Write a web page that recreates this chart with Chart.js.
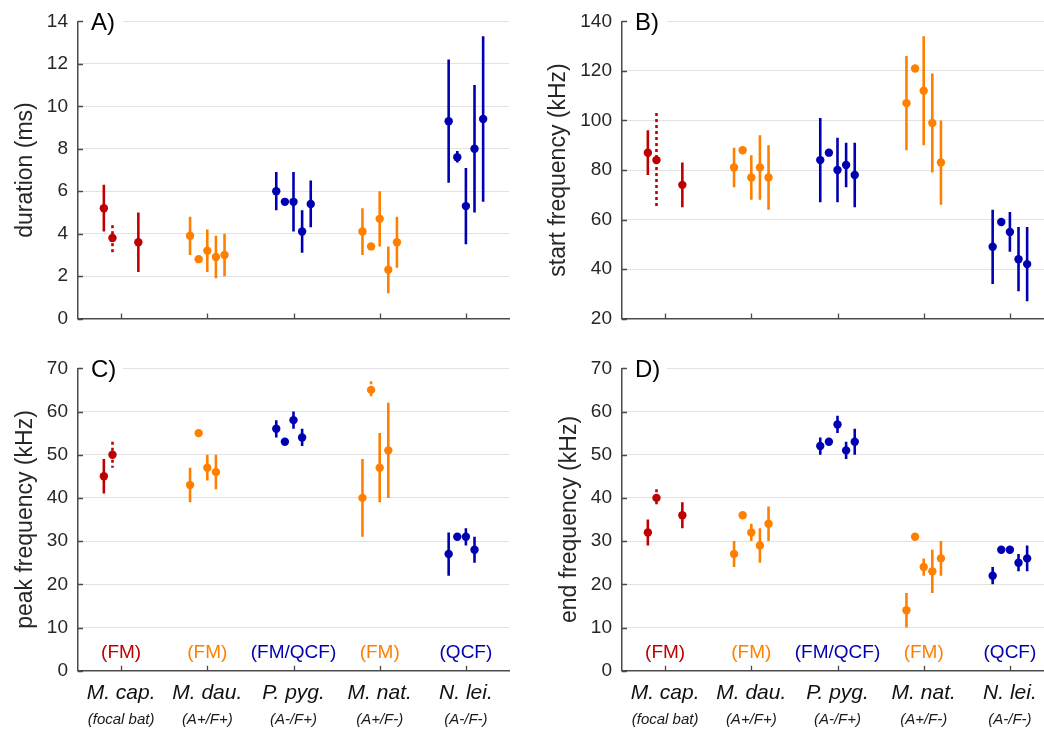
<!DOCTYPE html>
<html lang="en">
<head>
<meta charset="UTF-8">
<title>Call parameters per species</title>
<script src="https://cdn.jsdelivr.net/npm/chart.js"></script>
<style>
  html, body { margin: 0; padding: 0; background: #fff; overflow: hidden; }
  body { width: 1044px; height: 729px; position: relative; }
  canvas { position: absolute; }
</style>
</head>
<body>
<canvas id="panelA" width="520" height="340" style="left:0;top:0"></canvas>
<canvas id="panelB" width="560" height="340" style="left:520px;top:0"></canvas>
<canvas id="panelC" width="520" height="389" style="left:0;top:340px"></canvas>
<canvas id="panelD" width="560" height="389" style="left:520px;top:340px"></canvas>
<script>
// species along the x axis, five recorded bats per species (null = bat not recorded)
const species = ['M. cap.', 'M. dau.', 'P. pyg.', 'M. nat.', 'N. lei.'];
const speciesNotes = ['(focal bat)', '(A+/F+)', '(A-/F+)', '(A+/F-)', '(A-/F-)'];
const callTypes = ['(FM)', '(FM)', '(FM/QCF)', '(FM)', '(QCF)'];

// A) duration (ms)
const durMean = [
  [5.2, 3.8, null, null, 3.6],
  [3.9, 2.8, 3.2, 2.9, 3.0],
  [6.0, 5.5, 5.5, 4.1, 5.4],
  [4.1, 3.4, 4.7, 2.3, 3.6],
  [9.3, 7.6, 5.3, 8.0, 9.4]
];
const durLow = [
  [4.1, 3.1, null, null, 2.2],
  [3.0, null, 2.2, 1.9, 2.0],
  [5.1, null, 4.1, 3.1, 4.3],
  [3.0, null, 3.4, 1.2, 2.4],
  [6.4, 7.35, 3.5, 5.0, 5.5]
];
const durHigh = [
  [6.3, 4.4, null, null, 5.0],
  [4.8, null, 4.2, 3.9, 4.0],
  [6.9, null, 6.9, 5.1, 6.5],
  [5.2, null, 6.0, 3.4, 4.8],
  [12.2, 7.9, 7.1, 11.0, 13.3]
];

// B) start frequency (kHz)
const startMean = [
  [87, 84, null, null, 74],
  [81, 88, 77, 81, 77],
  [84, 87, 80, 82, 78],
  [107, 121, 112, 99, 83],
  [49, 59, 55, 44, 42]
];
const startLow = [
  [78, 65, null, null, 65],
  [73, null, 68, 68, 64],
  [67, null, 67, 73, 65],
  [88, null, 90, 79, 66],
  [34, null, 47, 31, 27]
];
const startHigh = [
  [96, 103, null, null, 83],
  [89, null, 86, 94, 90],
  [101, null, 93, 91, 91],
  [126, null, 134, 119, 100],
  [64, null, 63, 57, 57]
];

// C) peak frequency (kHz)
const peakMean = [
  [45, 50, null, null, null],
  [43, 55, 47, 46, null],
  [56, 53, 58, 54, null],
  [40, 65, 47, 51, null],
  [27, 31, 31, 28, null]
];
const peakLow = [
  [41, 47, null, null, null],
  [39, null, 44, 42, null],
  [54, null, 56, 52, null],
  [31, 63, 39, 40, null],
  [22, null, 29, 25, null]
];
const peakHigh = [
  [49, 53, null, null, null],
  [47, null, 50, 50, null],
  [58, null, 60, 56, null],
  [49, 67, 55, 62, null],
  [32, null, 33, 31, null]
];

// D) end frequency (kHz)
const endMean = [
  [32, 40, null, null, 36],
  [27, 36, 32, 29, 34],
  [52, 53, 57, 51, 53],
  [14, 31, 24, 23, 26],
  [22, 28, 28, 25, 26]
];
const endLow = [
  [29, 38, null, null, 33],
  [24, null, 30, 25, 30],
  [50, null, 55, 49, 50],
  [10, null, 22, 18, 22],
  [20, null, null, 23, 23]
];
const endHigh = [
  [35, 42, null, null, 39],
  [30, null, 34, 33, 38],
  [54, null, 59, 53, 56],
  [18, null, 26, 28, 30],
  [24, null, null, 27, 29]
];

// [species, bat] pairs whose range is drawn dotted
const durDotted = [[0, 1]];
const startDotted = [[0, 1]];
const peakDotted = [[0, 1], [3, 1]];
const endDotted = [[0, 1]];

const RED = '#bf0000', ORANGE = '#ff8000', BLUE = '#0000b3';
const speciesColors = [RED, ORANGE, BLUE, ORANGE, BLUE];
const FONT = '"Liberation Sans", Arial, Helvetica, sans-serif';
const AXIS = '#4a4a4a';
const GRID = '#e2e2e2';
const TEXT = '#262626';

// panel letter, inward tick marks and the text under / inside the bottom panels
const panelDecor = {
  id: 'panelDecor',
  afterDraw(chart, args, opts) {
    const { ctx, chartArea: a } = chart;
    const x = chart.scales.x, y = chart.scales.y;
    ctx.save();

    ctx.fillStyle = '#fff';
    ctx.fillRect(a.left + 1, a.top - 3, 44, 6);
    ctx.fillStyle = '#000';
    ctx.font = '24px ' + FONT;
    ctx.textAlign = 'left';
    ctx.textBaseline = 'middle';
    ctx.fillText(opts.letter, a.left + 13, a.top + 2);

    ctx.strokeStyle = AXIS;
    ctx.lineWidth = 1.3;
    ctx.beginPath();
    y.ticks.forEach(t => {
      const py = Math.round(y.getPixelForValue(t.value)) + 0.5;
      ctx.moveTo(a.left, py);
      ctx.lineTo(a.left + 5, py);
    });
    x.ticks.forEach(t => {
      const px = Math.round(x.getPixelForValue(t.value)) + 0.5;
      ctx.moveTo(px, a.bottom);
      ctx.lineTo(px, a.bottom - 5);
    });
    ctx.stroke();

    if (opts.bottomRow) {
      ctx.textAlign = 'center';
      ctx.font = '19px ' + FONT;
      callTypes.forEach((t, i) => {
        ctx.fillStyle = speciesColors[i];
        ctx.fillText(t, x.getPixelForValue(i + 1), a.bottom - 17.5);
      });
      ctx.fillStyle = '#1a1a1a';
      ctx.font = 'italic 15px ' + FONT;
      speciesNotes.forEach((t, i) => {
        ctx.fillText(t, x.getPixelForValue(i + 1), a.bottom + 49);
      });
    }
    ctx.restore();
  }
};

function buildDatasets(mean, low, high, dottedPairs) {
  const datasets = [];
  species.forEach((name, i) => {
    const color = speciesColors[i];
    const points = [], solid = [], dotted = [];
    mean[i].forEach((m, j) => {
      if (m === null) return;
      const xv = i + 1 + (j - 2) * 0.1;
      points.push({ x: xv, y: m });
      const lo = low[i][j], hi = high[i][j];
      if (lo === null || hi === null) return;
      const isDotted = dottedPairs.some(d => d[0] === i && d[1] === j);
      (isDotted ? dotted : solid).push({ x: xv, y: hi }, { x: xv, y: lo }, { x: xv, y: null });
    });
    datasets.push({
      type: 'scatter', label: name, data: points, order: 0,
      pointRadius: 4.2, pointHoverRadius: 4.2, pointBorderWidth: 0,
      pointBackgroundColor: color, borderColor: color
    });
    const bar = {
      type: 'line', data: solid, order: 1, borderColor: color, borderWidth: 2.6,
      pointRadius: 0, spanGaps: false, tension: 0, borderCapStyle: 'butt'
    };
    datasets.push(bar);
    if (dotted.length) {
      datasets.push(Object.assign({}, bar, { data: dotted, borderDash: [3, 3] }));
    }
  });
  return datasets;
}

function makePanel(id, p) {
  new Chart(document.getElementById(id), {
    type: 'scatter',
    data: { datasets: buildDatasets(p.mean, p.low, p.high, p.dotted) },
    options: {
      responsive: false,
      animation: false,
      events: [],
      devicePixelRatio: 1,
      layout: { padding: { left: 0, top: p.top, right: p.right, bottom: 0 } },
      plugins: {
        legend: { display: false },
        tooltip: { enabled: false },
        panelDecor: { letter: p.letter, bottomRow: p.bottomRow }
      },
      scales: {
        x: {
          type: 'linear', min: 0.5, max: 5.5,
          afterBuildTicks: s => { s.ticks = species.map((n, i) => ({ value: i + 1 })); },
          afterFit: s => { s.height = p.xHeight; },
          grid: { display: false, drawTicks: false },
          border: { color: AXIS, width: 1.5 },
          ticks: {
            display: p.bottomRow, padding: 10, color: '#111',
            font: { family: FONT, size: 21, style: 'italic', lineHeight: 1.2 },
            callback: v => species[v - 1]
          }
        },
        y: {
          min: p.yMin, max: p.yMax,
          afterFit: s => { s.width = p.yWidth; },
          grid: {
            drawTicks: false, lineWidth: 1,
            color: c => (c.tick && c.tick.value === p.yMin ? 'rgba(0,0,0,0)' : GRID)
          },
          border: { color: AXIS, width: 1.5 },
          ticks: {
            stepSize: p.step, padding: 10, color: TEXT,
            font: { family: FONT, size: 19 }
          },
          title: {
            display: true, text: p.title, color: TEXT,
            font: { family: FONT, size: 23, lineHeight: 1.2 },
            padding: { top: p.titlePad, bottom: 0 }
          }
        }
      }
    },
    plugins: [panelDecor]
  });
}

makePanel('panelA', {
  letter: 'A)', title: 'duration (ms)', mean: durMean, low: durLow, high: durHigh, dotted: durDotted,
  yMin: 0, yMax: 14, step: 2, top: 20.7, right: 11, yWidth: 78, xHeight: 17.3, titlePad: 11.5, bottomRow: false
});
makePanel('panelB', {
  letter: 'B)', title: 'start frequency (kHz)', mean: startMean, low: startLow, high: startHigh, dotted: startDotted,
  yMin: 20, yMax: 140, step: 20, top: 20.7, right: 27, yWidth: 102, xHeight: 17.3, titlePad: 25.2, bottomRow: false
});
makePanel('panelC', {
  letter: 'C)', title: 'peak frequency (kHz)', mean: peakMean, low: peakLow, high: peakHigh, dotted: peakDotted,
  yMin: 0, yMax: 70, step: 10, top: 28.3, right: 11, yWidth: 78, xHeight: 58.3, titlePad: 12.2, bottomRow: true
});
makePanel('panelD', {
  letter: 'D)', title: 'end frequency (kHz)', mean: endMean, low: endLow, high: endHigh, dotted: endDotted,
  yMin: 0, yMax: 70, step: 10, top: 28.3, right: 27, yWidth: 102, xHeight: 58.3, titlePad: 36.2, bottomRow: true
});
</script>
</body>
</html>
